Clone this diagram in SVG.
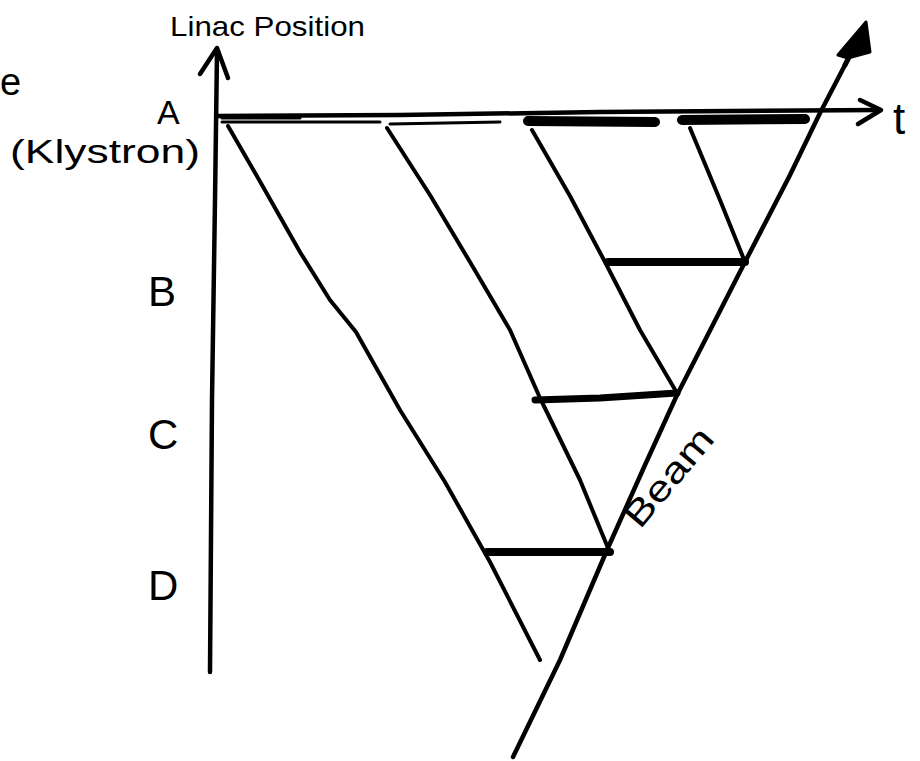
<svg xmlns="http://www.w3.org/2000/svg" width="920" height="761" viewBox="0 0 920 761">
<style>
.ln{fill:none;stroke:#000;stroke-linecap:round;stroke-linejoin:round}
.t{font-family:"Liberation Sans",Arial,sans-serif;fill:#000}
</style>
<rect width="920" height="761" fill="#fff"/>
<g id="connectors">
  <!-- vertical axis -->
  <path class="ln" stroke-width="4.5" d="M210,672 L212,400 L215,200 L217,52"/>
  <path class="ln" stroke-width="4.5" d="M200,74 L217,48 L228,78"/>
  <!-- horizontal axis -->
  <path class="ln" stroke-width="4.5" d="M217,116 L400,115 L600,112 L880,110"/>
  <path class="ln" stroke-width="4.5" d="M860,100 L881,110 L858,124"/>
  <!-- thin double lines at A -->
  <path class="ln" stroke-width="3" d="M222,122 L380,122 M222,118 L300,118 M390,124 L500,122"/>
  <!-- thick segments at A -->
  <path class="ln" stroke-width="10" d="M528,121 L655,122"/>
  <path class="ln" stroke-width="10" d="M682,120 L805,119"/>
  <!-- beam -->
  <path class="ln" stroke-width="4.5" d="M513,757 L560,660 L607,550 L645,465 L677,395 L745,262 L790,175 L820,113 L845,65"/>
  <path d="M866,22 L838,55 L848,58 L870,52 Z" fill="#000" stroke="#000" stroke-width="3" stroke-linejoin="round"/>
  <path class="ln" stroke-width="5" d="M845,65 L858,40"/>
  <!-- diagonal signal lines -->
  <path class="ln" stroke-width="4" d="M228,126 L262,185 L300,252 L330,300 L356,332 L400,410 L445,482 L490,562 L540,660"/>
  <path class="ln" stroke-width="4" d="M387,128 L430,195 L470,262 L510,330 L540,398 L580,480 L608,548"/>
  <path class="ln" stroke-width="4" d="M532,130 L570,196 L605,262 L640,330 L677,393"/>
  <path class="ln" stroke-width="4" d="M690,128 L720,200 L745,262"/>
  <!-- thick horizontal segments -->
  <path class="ln" stroke-width="8" d="M608,262 L745,262"/>
  <path class="ln" stroke-width="7" d="M535,400 L600,398 L677,393"/>
  <path class="ln" stroke-width="8" d="M487,552 L610,552"/>
</g>
<g id="labels">
  <text class="t" x="170" y="36" font-size="28" textLength="195" lengthAdjust="spacingAndGlyphs">Linac Position</text>
  <text class="t" x="0" y="95" font-size="38">e</text>
  <text class="t" x="157" y="124" font-size="34">A</text>
  <text class="t" x="10" y="163" font-size="34" textLength="190" lengthAdjust="spacingAndGlyphs">(Klystron)</text>
  <text class="t" x="893" y="134" font-size="44">t</text>
  <text class="t" x="148" y="306" font-size="42">B</text>
  <text class="t" x="148" y="449" font-size="42">C</text>
  <text class="t" x="148" y="600" font-size="42">D</text>
  <text class="t" x="0" y="0" font-size="36" transform="translate(640,530) rotate(-50)" textLength="118" lengthAdjust="spacingAndGlyphs">Beam</text>
</g>
</svg>
